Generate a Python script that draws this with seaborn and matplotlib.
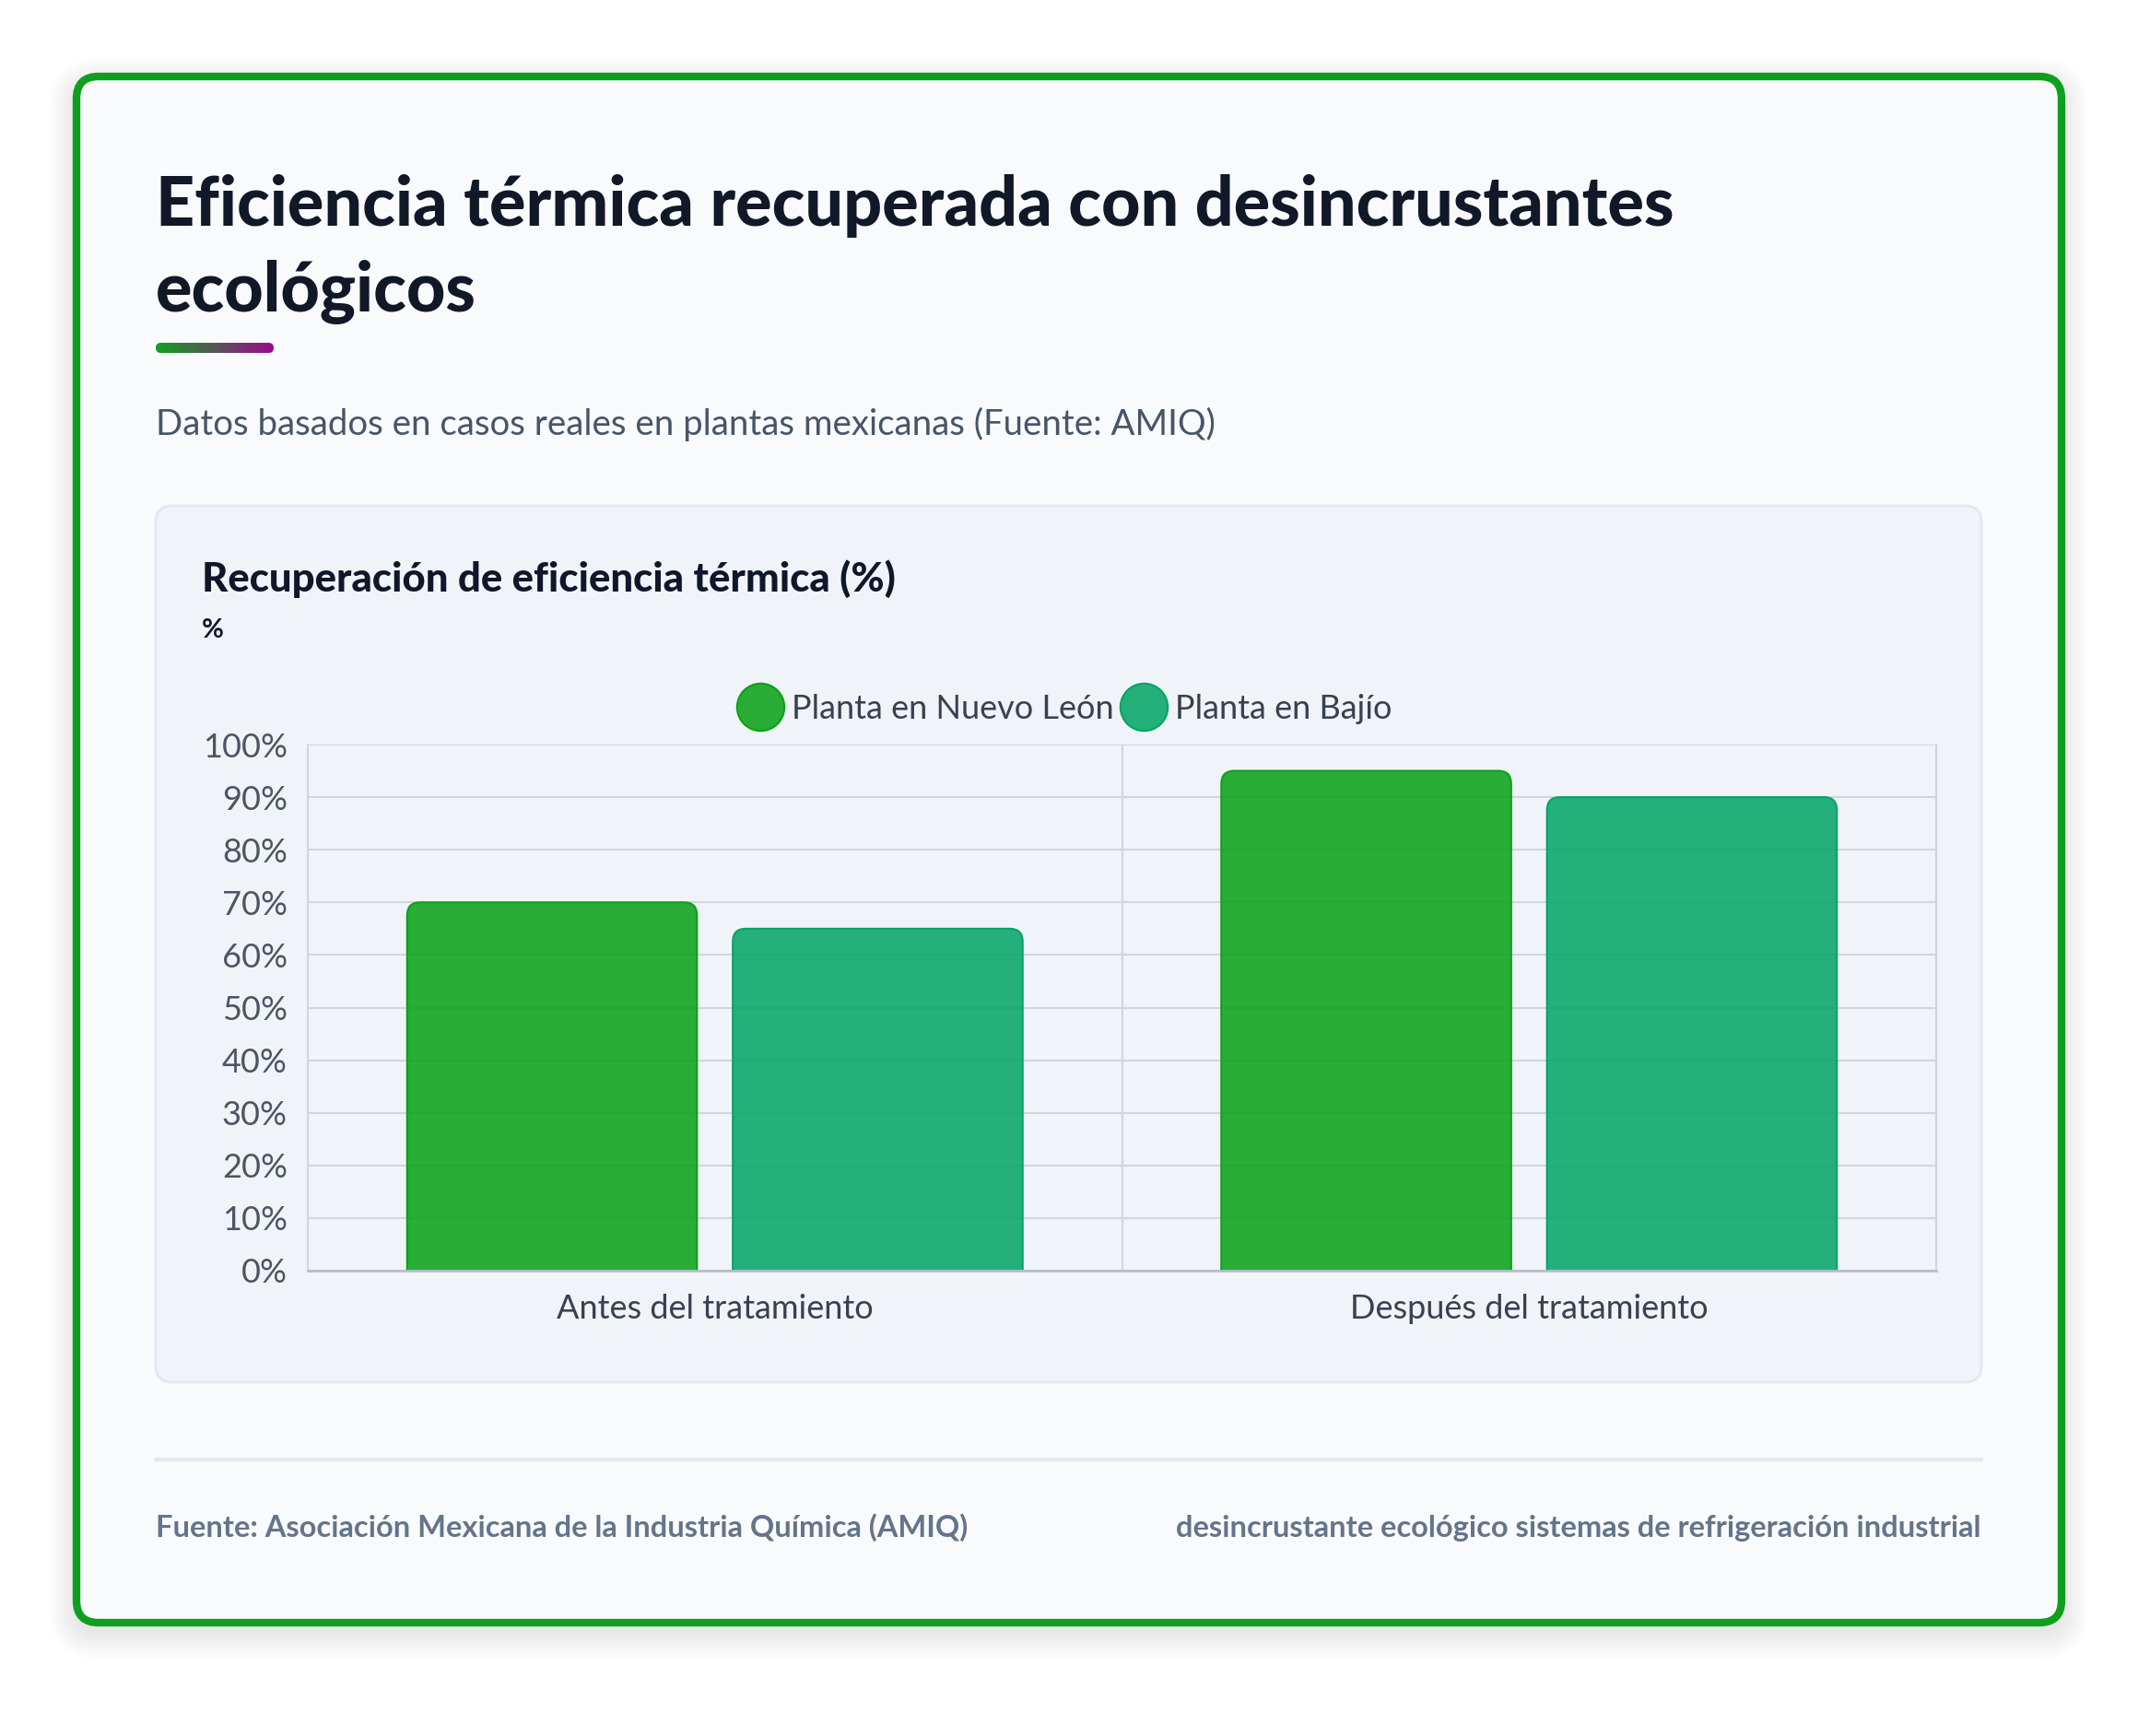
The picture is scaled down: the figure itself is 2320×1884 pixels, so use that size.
import matplotlib.pyplot as plt
import numpy as np
import pandas as pd
import seaborn as sns
from matplotlib.colors import LinearSegmentedColormap, to_rgba
from matplotlib.lines import Line2D
from matplotlib.patches import FancyBboxPatch
from matplotlib.transforms import IdentityTransform

stages = ["Antes del tratamiento", "Después del tratamiento"]
plants = ["Planta en Nuevo León", "Planta en Bajío"]
nuevo_leon = [70, 95]
bajio = [65, 90]
y_ticks = [0, 10, 20, 30, 40, 50, 60, 70, 80, 90, 100]
colors = ["#08a217", "#04a466"]

W, H = 2320, 1884
sns.set_theme(style="white")
plt.rcParams["font.family"] = ["Lato", "DejaVu Sans"]

fig = plt.figure(figsize=(W / 100, H / 100), dpi=100, facecolor="white")


def fx(px):
    return px / W


def fy(py):
    return 1 - py / H


def card(x0, y0, x1, y1, r, z=-5, **kw):
    p = FancyBboxPatch((x0, H - y1), x1 - x0, y1 - y0,
                       boxstyle=f"round,pad=0,rounding_size={r}",
                       transform=IdentityTransform(), zorder=z, **kw)
    fig.add_artist(p)
    return p


# outer card with a soft shadow
for i in range(12):
    s = 2 + i * 2.5
    card(83 - s, 83 - s + 10, 2237 + s, 1761 + s + 10, 24 + s, z=-10,
         facecolor="black", edgecolor="none", alpha=0.008)
card(83, 83, 2237, 1761, 24, z=-9, facecolor="#f8fafc", edgecolor="#0e9f1e", linewidth=6)

# inner chart card
card(169, 549, 2150, 1500, 18, z=-8, facecolor="#f0f4f8", edgecolor="#e2e8f0", linewidth=2)

# headings
fig.text(fx(169), fy(245), "Eficiencia térmica recuperada con desincrustantes",
         fontsize=53, fontweight="black", color="#111827", va="baseline")
fig.text(fx(169), fy(338), "ecológicos",
         fontsize=53, fontweight="black", color="#111827", va="baseline")

# gradient underline
gax = fig.add_axes([fx(169), fy(383), 128 / W, 11 / H])
gax.axis("off")
cmap = LinearSegmentedColormap.from_list("g", ["#12a022", "#9c0a8c"])
img = gax.imshow(np.linspace(0, 1, 256)[None, :], cmap=cmap, aspect="auto",
                 extent=(0, 1, 0, 1))
clip = FancyBboxPatch((0, 0), 1, 1, boxstyle=f"round,pad=0,rounding_size={5.5 / 128}",
                      mutation_aspect=0.5 / (5.5 / 128), transform=gax.transAxes,
                      facecolor="none", edgecolor="none")
gax.add_patch(clip)
img.set_clip_path(clip)

fig.text(fx(169), fy(472), "Datos basados en casos reales en plantas mexicanas (Fuente: AMIQ)",
         fontsize=27.6, color="#475569", va="baseline")

fig.text(fx(219), fy(642), "Recuperación de eficiencia térmica (%)",
         fontsize=31.5, fontweight="black", color="#0f172a", va="baseline")
fig.text(fx(219), fy(692), "%", fontsize=21, fontweight="bold", color="#0f172a", va="baseline")

# chart
ax = fig.add_axes([fx(334), fy(1379), (2101 - 334) / W, (1379 - 808) / H])
ax.patch.set_alpha(0)

df = pd.DataFrame({
    "Etapa": stages * 2,
    "Planta": [plants[0]] * len(stages) + [plants[1]] * len(stages),
    "Eficiencia": nuevo_leon + bajio,
})
sns.barplot(data=df, x="Etapa", y="Eficiencia", hue="Planta", palette=colors,
            saturation=1, width=0.8, gap=0.11, ax=ax, legend=False, zorder=2)

ax.set_xlim(-0.5, len(stages) - 0.5)
ax.set_ylim(0, 100)

# rounded tops on the bars
px_x = ax.bbox.width / len(stages)
px_y = ax.bbox.height / 100
aspect = px_x / px_y
r = 14 / px_x
for bar in list(ax.patches):
    x, w, h = bar.get_x(), bar.get_width(), bar.get_height()
    fc = bar.get_facecolor()
    bar.set_visible(False)
    ext = r * aspect
    ax.add_patch(FancyBboxPatch((x, -ext), w, h + ext,
                                boxstyle=f"round,pad=0,rounding_size={r}",
                                mutation_aspect=aspect,
                                facecolor=to_rgba(fc, 0.86), edgecolor=to_rgba(fc, 1),
                                linewidth=1.5, zorder=2))

grid_c = "#cfd6df"
ax.set_yticks(y_ticks)
ax.set_yticklabels([f"{v}%" for v in y_ticks])
ax.yaxis.grid(True, color=grid_c, linewidth=1.5, zorder=0)
ax.set_xticks(np.arange(-0.5, len(stages), 1.0), minor=True)
ax.xaxis.grid(True, which="minor", color=grid_c, linewidth=1.5, zorder=0)
ax.set_axisbelow(True)
ax.tick_params(axis="x", which="major", length=0, pad=18, labelsize=26, labelcolor="#374151")
ax.tick_params(axis="x", which="minor", length=8, width=1.5, color=grid_c)
ax.tick_params(axis="y", length=9, width=1.5, color=grid_c, pad=7, labelsize=26,
               labelcolor="#4b5563")
ax.set_xlabel("")
ax.set_ylabel("")
for side in ["left", "right", "top"]:
    ax.spines[side].set_color(grid_c)
    ax.spines[side].set_linewidth(1.5)
ax.spines["top"].set_visible(False)
ax.spines["bottom"].set_color("#b6bfcb")
ax.spines["bottom"].set_linewidth(2)

handles = [Line2D([], [], marker="o", linestyle="none", markersize=37,
                  markerfacecolor=to_rgba(c, 0.86), markeredgecolor=c, markeredgewidth=1.5)
           for c in colors]
fig.legend(handles, plants, loc="center", bbox_to_anchor=(fx(1157), fy(769)), ncol=2,
           frameon=False, fontsize=26, labelcolor="#374151", handletextpad=0.35,
           columnspacing=0.3, handlelength=1.2)

# footer
fig.add_artist(Line2D([fx(169), fx(2150)], [fy(1584), fy(1584)], color="#e2e8f0", linewidth=3))
fig.text(fx(169), fy(1668), "Fuente: Asociación Mexicana de la Industria Química (AMIQ)",
         fontsize=23.5, fontweight="bold", color="#64748b", va="baseline")
fig.text(fx(2150), fy(1668), "desincrustante ecológico sistemas de refrigeración industrial",
         fontsize=23.5, fontweight="bold", color="#64748b", va="baseline", ha="right")

fig.savefig("out.png", dpi=100, facecolor="white")
